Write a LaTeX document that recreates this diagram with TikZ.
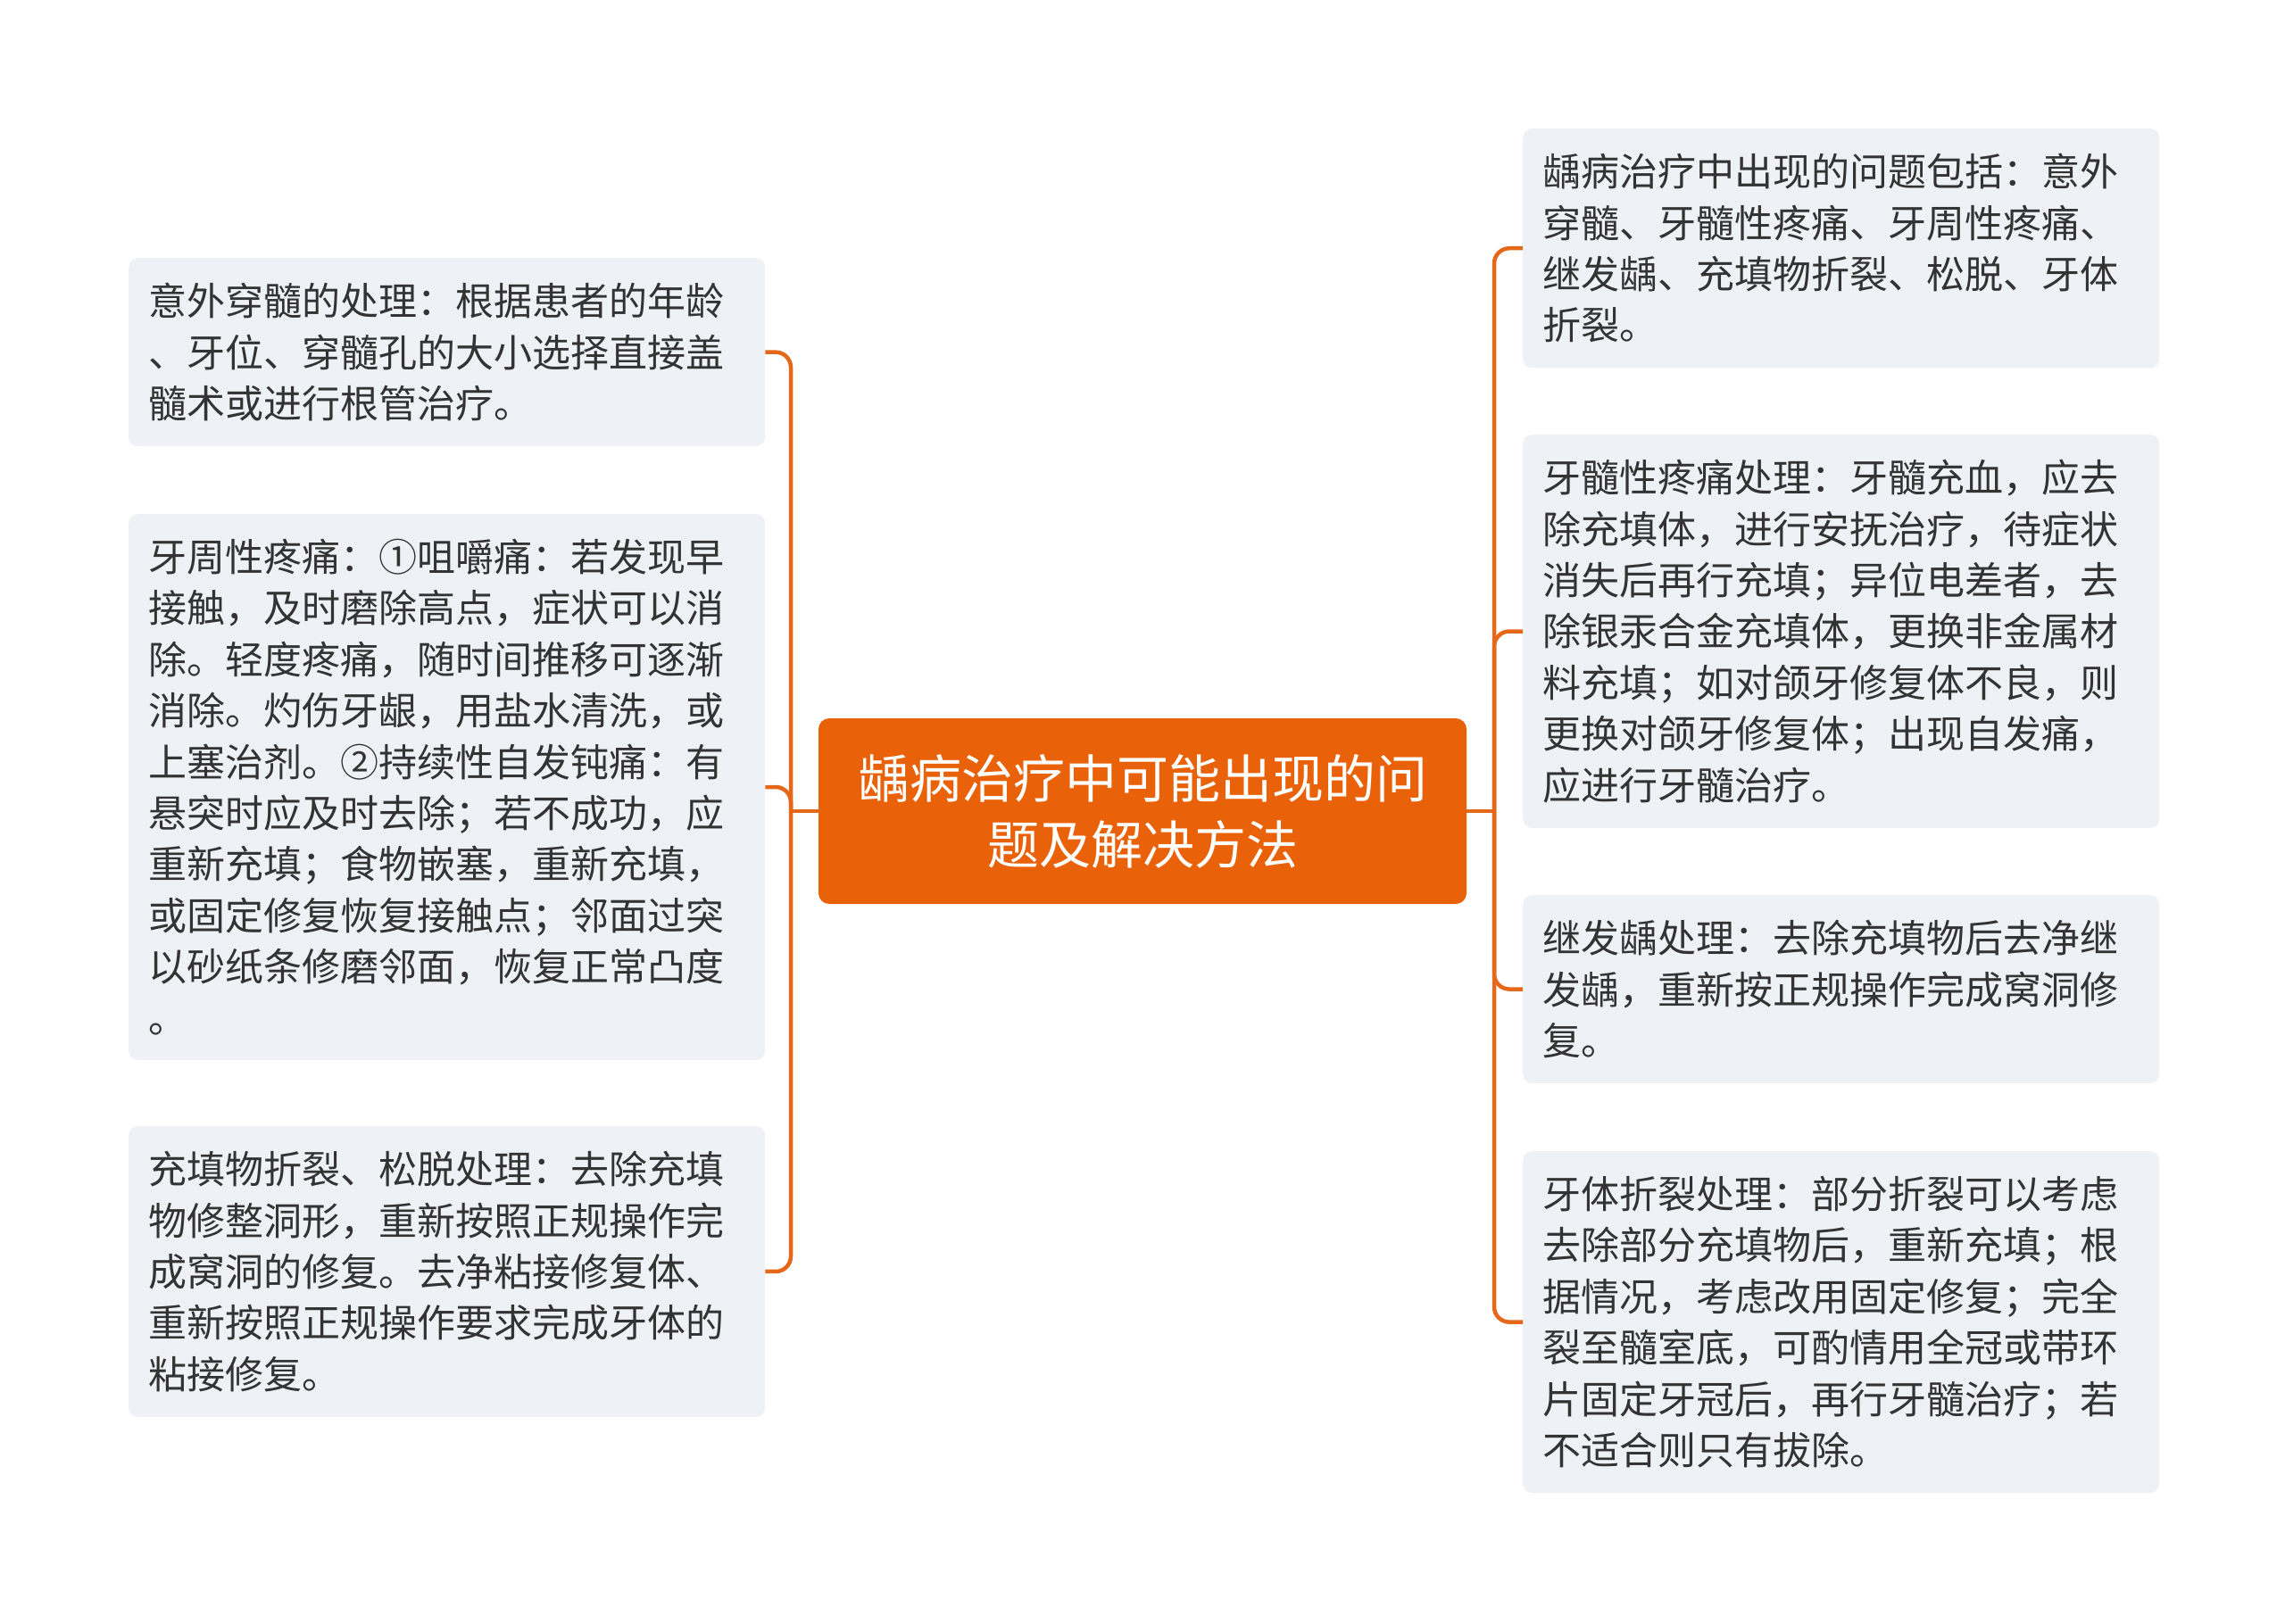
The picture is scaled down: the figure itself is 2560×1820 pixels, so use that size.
\documentclass[tikz,border=0pt]{standalone}
\usepackage{fontspec}
\setmainfont{Noto Sans CJK SC}
\definecolor{leafgray}{HTML}{EEF1F5}
\definecolor{textgray}{HTML}{333333}
\definecolor{rootorange}{HTML}{E9620A}
\definecolor{lineorange}{HTML}{E4671A}
\begin{document}
\begin{tikzpicture}[x=1pt,y=-1pt,
  leaf/.style={fill=leafgray, rounded corners=10pt, text=textgray, text width=669pt,
    align=left, inner xsep=22pt, inner ysep=28pt, anchor=north west,
    font={\fontsize{43}{57.4}\selectfont}},
  root/.style={fill=rootorange, rounded corners=12pt, text=white, minimum width=726pt,
    minimum height=208pt, text width=700pt, align=center, inner sep=0pt,
    font={\fontsize{58}{74}\selectfont}},
  link/.style={draw=lineorange, line width=4.5pt, rounded corners=17pt}]
\useasboundingbox (0,0) rectangle (2560,1820);

\node[root] (c) at (1280,909) {龋病治疗中可能出现的问\\题及解决方法};

\node[leaf] (l1) at (144,289) {意外穿髓的处理：根据患者的年龄\\、牙位、穿髓孔的大小选择直接盖\\髓术或进行根管治疗。};
\node[leaf] (l2) at (144,576) {牙周性疼痛：①咀嚼痛：若发现早\\接触，及时磨除高点，症状可以消\\除。轻度疼痛，随时间推移可逐渐\\消除。灼伤牙龈，用盐水清洗，或\\上塞治剂。②持续性自发钝痛：有\\悬突时应及时去除；若不成功，应\\重新充填；食物嵌塞，重新充填，\\或固定修复恢复接触点；邻面过突\\以砂纸条修磨邻面，恢复正常凸度\\。};
\node[leaf] (l3) at (144,1262) {充填物折裂、松脱处理：去除充填\\物修整洞形，重新按照正规操作完\\成窝洞的修复。去净粘接修复体、\\重新按照正规操作要求完成牙体的\\粘接修复。};

\node[leaf] (r1) at (1706,144) {龋病治疗中出现的问题包括：意外\\穿髓、牙髓性疼痛、牙周性疼痛、\\继发龋、充填物折裂、松脱、牙体\\折裂。};
\node[leaf] (r2) at (1706,487) {牙髓性疼痛处理：牙髓充血，应去\\除充填体，进行安抚治疗，待症状\\消失后再行充填；异位电差者，去\\除银汞合金充填体，更换非金属材\\料充填；如对颌牙修复体不良，则\\更换对颌牙修复体；出现自发痛，\\应进行牙髓治疗。};
\node[leaf] (r3) at (1706,1003) {继发龋处理：去除充填物后去净继\\发龋，重新按正规操作完成窝洞修\\复。};
\node[leaf] (r4) at (1706,1290) {牙体折裂处理：部分折裂可以考虑\\去除部分充填物后，重新充填；根\\据情况，考虑改用固定修复；完全\\裂至髓室底，可酌情用全冠或带环\\片固定牙冠后，再行牙髓治疗；若\\不适合则只有拔除。};

\coordinate (lj) at (886,909);
\coordinate (rj) at (1674,909);
\draw[link] (c.west) -- (lj);
\draw[link] (c.east) -- (rj);
\foreach \n in {l1,l2,l3} \draw[link] (lj) |- (\n.east);
\foreach \n in {r1,r2,r3,r4} \draw[link] (rj) |- (\n.west);
\end{tikzpicture}
\end{document}
